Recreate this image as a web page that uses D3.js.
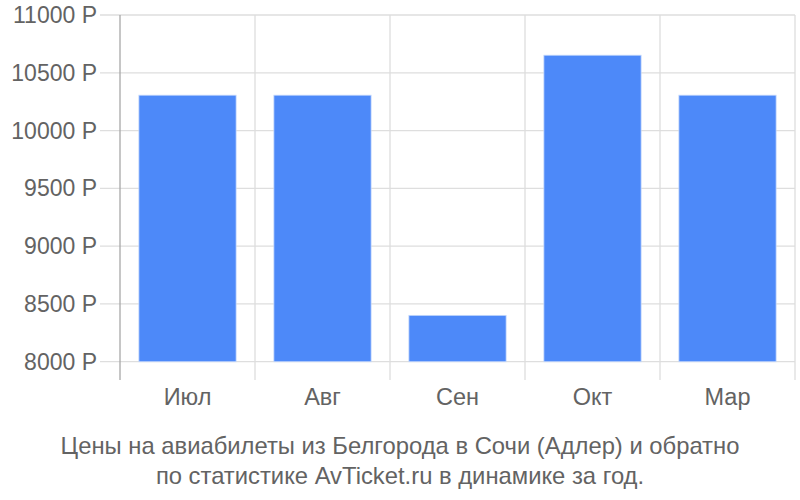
<!DOCTYPE html>
<html><head><meta charset="utf-8">
<script src="https://cdn.jsdelivr.net/npm/d3@7"></script>
<style>body{margin:0;background:#fff}svg{display:block;font-family:"Liberation Sans",Arial,sans-serif}</style>
</head><body><svg id="c" width="800" height="500"></svg>
<script>
const categories = ["Июл","Авг","Сен","Окт","Мар"];
const prices = [10306, 10306, 8401, 10652, 10306];
const yTicks = [8000, 8500, 9000, 9500, 10000, 10500, 11000];
const titleLines = ["Цены на авиабилеты из Белгорода в Сочи (Адлер) и обратно","по статистике AvTicket.ru в динамике за год."];

const svg = d3.select("#c");
const L = 120, R = 795, T = 15, B = 361.7;
const x = d3.scaleBand().domain(categories).range([L, R]).paddingInner(0.28).paddingOuter(0.14);
const y = d3.scaleLinear().domain([8000, 11000]).range([B, T]);

svg.append("g").selectAll("line").data(yTicks).join("line")
  .attr("x1", 100).attr("x2", R).attr("y1", d => y(d)).attr("y2", d => y(d))
  .attr("stroke", "#dedede").attr("stroke-width", 1.3);
const bounds = categories.map((c,i) => L + (i+1)*x.step());
svg.append("g").selectAll("line").data(bounds).join("line")
  .attr("x1", d => d).attr("x2", d => d).attr("y1", T).attr("y2", 380)
  .attr("stroke", "#dedede").attr("stroke-width", 1.3);
svg.append("line").attr("x1", L).attr("x2", L).attr("y1", T).attr("y2", 380)
  .attr("stroke", "#a8a8a8").attr("stroke-width", 1.3);

svg.append("g").selectAll("rect").data(prices).join("rect")
  .attr("x", (d,i) => x(categories[i]))
  .attr("width", x.bandwidth())
  .attr("y", d => y(d))
  .attr("height", d => B - y(d))
  .attr("fill", "#4d89f9")
  .attr("stroke", "#c4d8fc").attr("stroke-width", 0.8);

svg.append("g").selectAll("text").data(yTicks).join("text")
  .attr("x", 97).attr("y", d => y(d)).attr("dy", "0.35em")
  .attr("text-anchor", "end").attr("fill", "#636363").attr("font-size", 23)
  .text(d => d + " Р");

svg.append("g").selectAll("text").data(categories).join("text")
  .attr("x", d => x(d) + x.bandwidth()/2).attr("y", 397).attr("dy", "0.35em")
  .attr("text-anchor", "middle").attr("fill", "#636363").attr("font-size", 23.5)
  .text(d => d);

svg.append("g").selectAll("text").data(titleLines).join("text")
  .attr("x", 400).attr("y", (d,i) => 446 + i*30).attr("dy", "0.35em")
  .attr("text-anchor", "middle").attr("fill", "#636363").attr("font-size", 23.8)
  .text(d => d);
</script></body></html>
